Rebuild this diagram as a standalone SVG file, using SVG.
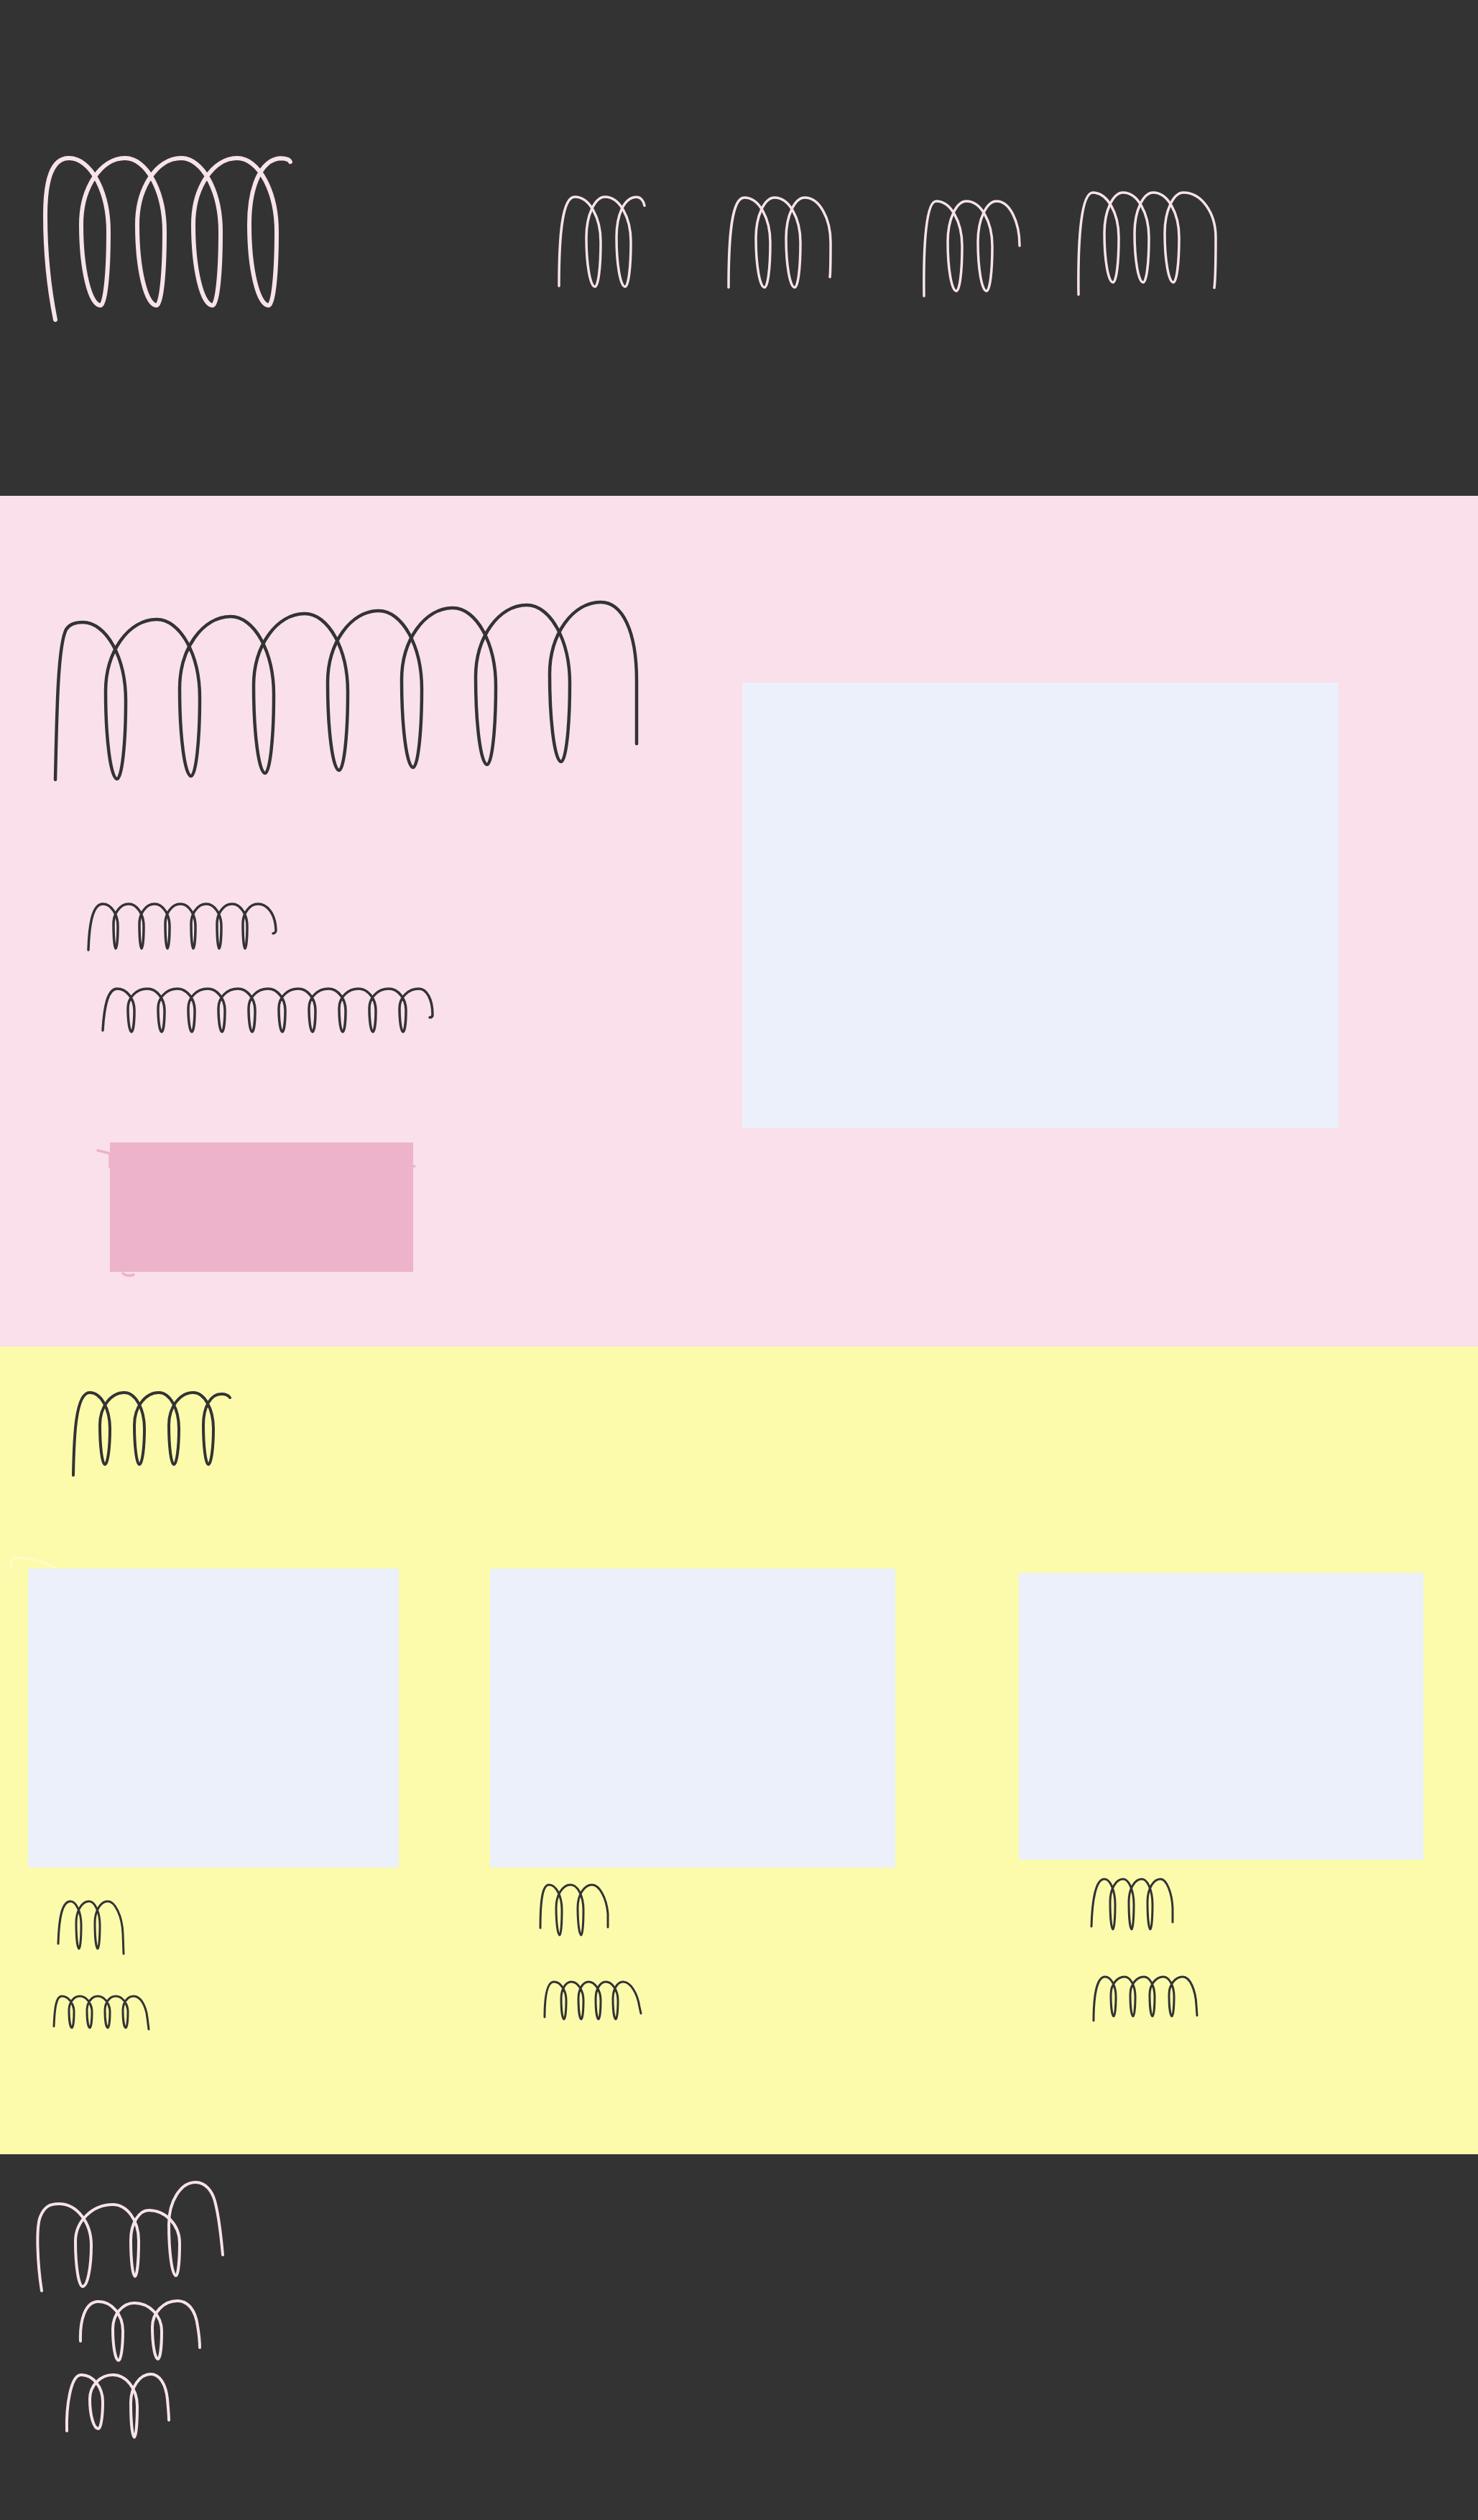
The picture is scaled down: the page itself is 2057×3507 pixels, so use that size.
<svg xmlns="http://www.w3.org/2000/svg" width="2057" height="3507" viewBox="0 0 2057 3507">
<style>
.dark{fill:#333333}
.pink{fill:#F9E0EA}
.yellow{fill:#FCFBAC}
.img{fill:#ECF0FA}
.btn{fill:#EDB3CB}
.sl{fill:none;stroke:#F8E3EA;stroke-linecap:round;stroke-linejoin:round}
.sd{fill:none;stroke:#333333;stroke-linecap:round;stroke-linejoin:round}
</style>
<g id="header">
<rect class="dark" x="0" y="0" width="2057" height="690"/>
<g id="logo"><path class="sl" stroke-width="6" d="M 77,445 C 70,410 63,360 63,300 C 63,250 72,220 96,220 c 30,0 55,46 55,102.5 c 0,61.5 -5,102.5 -11,102.5 c -15,0 -27,-51 -27,-112.75 c 0,-51 27.5,-92.25 61,-92.25 c 30,0 55,46 55,102.5 c 0,61.5 -5,102.5 -11,102.5 c -15,0 -27,-51 -27,-112.75 c 0,-51 27.5,-92.25 61,-92.25 c 30,0 55,46 55,102.5 c 0,61.5 -5,102.5 -11,102.5 c -15,0 -27,-51 -27,-112.75 c 0,-51 27.5,-92.25 61,-92.25 c 30,0 55,46 55,102.5 c 0,61.5 -5,102.5 -11,102.5 c -15,0 -27,-51 -27,-112.75 c 0,-50 15,-90 43,-92 c 8,0 13,2 14,5"/></g>
<g id="nav-1"><path class="sl" stroke-width="3.5" d="M 778,398 C 778,330 782,274 800,274 c 20,0 36,28 36,62.5 c 0,37.5 -3.6,62.5 -8,62.5 c -6.6,0 -12,-31 -12,-68.75 c 0,-31 12,-56.25 26,-56.25 c 20,0 36,28 36,62.5 c 0,37.5 -3.6,62.5 -8,62.5 c -6.6,0 -12,-31 -12,-68.75 c 0,-30 10,-56 28,-56 c 6,0 10,6 11,12"/></g>
<g id="nav-2"><path class="sl" stroke-width="3.5" d="M 1014,400 C 1014,330 1018,275 1036,275 c 20,0 36,28 36,62.5 c 0,37.5 -3.6,62.5 -8,62.5 c -6.6,0 -12,-31 -12,-68.75 c 0,-31 12,-56.25 26,-56.25 c 20,0 36,28 36,62.5 c 0,37.5 -3.6,62.5 -8,62.5 c -6.6,0 -12,-31 -12,-68.75 c 0,-31 12,-56.25 26,-56.25 c 20,0 36,28 36,62.5 c 0,20 0,40 -1,48"/></g>
<g id="nav-3"><path class="sl" stroke-width="3.5" d="M 1286,412 C 1285,340 1289,280 1303,280 c 20,0 36,28 36,62.5 c 0,37.5 -3.6,62.5 -8,62.5 c -6.6,0 -12,-31 -12,-68.75 c 0,-31 12,-56.25 26,-56.25 c 20,0 36,28 36,62.5 c 0,37.5 -3.6,62.5 -8,62.5 c -6.6,0 -12,-31 -12,-68.75 c 0,-31 12,-56.25 26,-56.25 c 18,0 32,28 32,62"/></g>
<g id="nav-4"><path class="sl" stroke-width="3.5" d="M 1501,410 C 1500,330 1505,268 1521,268 c 20,0 36,28 36,62.5 c 0,37.5 -3.6,62.5 -8,62.5 c -6.6,0 -12,-31 -12,-68.75 c 0,-31 12,-56.25 26,-56.25 c 20,0 36,28 36,62.5 c 0,37.5 -3.6,62.5 -8,62.5 c -6.6,0 -12,-31 -12,-68.75 c 0,-31 12,-56.25 26,-56.25 c 20,0 36,28 36,62.5 c 0,37.5 -3.6,62.5 -8,62.5 c -6.6,0 -12,-31 -12,-68.75 c 0,-31 12,-56.25 26,-56.25 c 25,0 45,28 45,62.5 c 0,35 0,55 -2,70"/></g>
</g>
<g id="hero">
<rect class="pink" x="0" y="690" width="2057" height="1184"/>
<g id="hero-title"><path class="sd" stroke-width="4.5" d="M 77,1085 C 79,1000 80,900 92,876 C 97,868 105,866 115,866 c 33,0 60,49 60,109 c 0,60 -5.4,109 -12,109 c -8.8,0 -16,-55 -16,-122 c 0,-55 32,-100 71,-100 c 33,0 60,49 60,109 c 0,60 -5.4,109 -12,109 c -8.8,0 -16,-55 -16,-122 c 0,-55 32,-100 71,-100 c 33,0 60,49 60,109 c 0,60 -5.4,109 -12,109 c -8.8,0 -16,-55 -16,-122 c 0,-55 32,-100 71,-100 c 33,0 60,49 60,109 c 0,60 -5.4,109 -12,109 c -8.8,0 -16,-55 -16,-122 c 0,-55 32,-100 71,-100 c 33,0 60,49 60,109 c 0,60 -5.4,109 -12,109 c -8.8,0 -16,-55 -16,-122 c 0,-55 32,-100 71,-100 c 33,0 60,49 60,109 c 0,60 -5.4,109 -12,109 c -8.8,0 -16,-55 -16,-122 c 0,-55 32,-100 71,-100 c 33,0 60,49 60,109 c 0,60 -5.4,109 -12,109 c -8.8,0 -16,-55 -16,-122 c 0,-55 32,-100 71,-100 c 30,0 50,40 50,109 l 0,88"/></g>
<g id="hero-subtitle-1"><path class="sd" stroke="#474747" stroke-width="3.5" d="M 123,1322 C 124,1290 128,1258 143,1258 c 11.5,0 21,14 21,31 c 0,17 -1.35,31 -3,31 c -1.65,0 -3,-15.5 -3,-34 c 0,-15.5 9.5,-28 21,-28 c 11.5,0 21,14 21,31 c 0,17 -1.35,31 -3,31 c -1.65,0 -3,-15.5 -3,-34 c 0,-15.5 9.5,-28 21,-28 c 11.5,0 21,14 21,31 c 0,17 -1.35,31 -3,31 c -1.65,0 -3,-15.5 -3,-34 c 0,-15.5 9.5,-28 21,-28 c 11.5,0 21,14 21,31 c 0,17 -1.35,31 -3,31 c -1.65,0 -3,-15.5 -3,-34 c 0,-15.5 9.5,-28 21,-28 c 11.5,0 21,14 21,31 c 0,17 -1.35,31 -3,31 c -1.65,0 -3,-15.5 -3,-34 c 0,-15.5 9.5,-28 21,-28 c 11.5,0 21,14 21,31 c 0,17 -1.35,31 -3,31 c -1.65,0 -3,-15.5 -3,-34 c 0,-15.5 9.5,-28 21,-28 c 12,0 24,12 25,36 c 0,3 -2,5 -4,5"/></g>
<g id="hero-subtitle-2"><path class="sd" stroke="#3d3d3d" stroke-width="3.5" d="M 143,1434 C 145,1400 150,1376 163,1376 c 13,0 24,13.5 24,30 c 0,16.5 -1.8,30 -4,30 c -2.75,0 -5,-15 -5,-33 c 0,-15 12,-27 27,-27 c 13,0 24,13.5 24,30 c 0,16.5 -1.8,30 -4,30 c -2.75,0 -5,-15 -5,-33 c 0,-15 12,-27 27,-27 c 13,0 24,13.5 24,30 c 0,16.5 -1.8,30 -4,30 c -2.75,0 -5,-15 -5,-33 c 0,-15 12,-27 27,-27 c 13,0 24,13.5 24,30 c 0,16.5 -1.8,30 -4,30 c -2.75,0 -5,-15 -5,-33 c 0,-15 12,-27 27,-27 c 13,0 24,13.5 24,30 c 0,16.5 -1.8,30 -4,30 c -2.75,0 -5,-15 -5,-33 c 0,-15 12,-27 27,-27 c 13,0 24,13.5 24,30 c 0,16.5 -1.8,30 -4,30 c -2.75,0 -5,-15 -5,-33 c 0,-15 12,-27 27,-27 c 13,0 24,13.5 24,30 c 0,16.5 -1.8,30 -4,30 c -2.75,0 -5,-15 -5,-33 c 0,-15 12,-27 27,-27 c 13,0 24,13.5 24,30 c 0,16.5 -1.8,30 -4,30 c -2.75,0 -5,-15 -5,-33 c 0,-15 12,-27 27,-27 c 13,0 24,13.5 24,30 c 0,16.5 -1.8,30 -4,30 c -2.75,0 -5,-15 -5,-33 c 0,-15 12,-27 27,-27 c 13,0 24,13.5 24,30 c 0,16.5 -1.8,30 -4,30 c -2.75,0 -5,-15 -5,-33 c 0,-15 12,-27 27,-27 c 11,0 19,15 19,36 c 0,3 -2,4 -4,4"/></g>
<g id="hero-button">
<rect class="btn" x="153" y="1590" width="422" height="180"/>
<path fill="none" stroke="#EDB3CB" stroke-width="3.5" stroke-linecap="round" d="M 136,1601 L 152,1605 M 153,1608 L 153,1624 M 171,1772 q 5,5 15,2 M 575,1623 l 2,0"/>
</g>
<g id="hero-image"><rect class="img" x="1033" y="950" width="830" height="620"/></g>
</g>
<g id="features">
<rect class="yellow" x="0" y="1874" width="2057" height="1124"/>
<g id="features-title"><path class="sd" stroke-width="4" d="M 102,2053 C 103,2000 105,1938 125,1938 c 15.4,0 28,22.5 28,50 c 0,27.5 -3.15,50 -7,50 c -3.85,0 -7,-25 -7,-55 c 0,-25 15.3,-45 34,-45 c 15.4,0 28,22.5 28,50 c 0,27.5 -3.15,50 -7,50 c -3.85,0 -7,-25 -7,-55 c 0,-25 15.3,-45 34,-45 c 15.4,0 28,22.5 28,50 c 0,27.5 -3.15,50 -7,50 c -3.85,0 -7,-25 -7,-55 c 0,-25 15.3,-45 34,-45 c 15.4,0 28,22.5 28,50 c 0,27.5 -3.15,50 -7,50 c -3.85,0 -7,-25 -7,-55 c 0,-25 10,-43 25,-43 c 6,0 10,2 12,5"/></g>
<path fill="none" stroke="#FFFFF2" stroke-opacity="0.4" stroke-width="3" stroke-linecap="round" d="M 16,2182 C 14,2175 16,2168 24,2168 C 45,2168 65,2175 78,2183"/>
<g id="card-1">
<rect class="img" x="39" y="2183" width="516" height="416"/>
<path class="sd" stroke-width="3" d="M 81,2705 C 82,2670 86,2646 98,2646 c 8,0 15,15 15,33 c 0,18 -1.35,33 -3,33 c -2.2,0 -4,-16.5 -4,-36.3 c 0,-16.5 8,-29.7 18,-29.7 c 8,0 15,15 15,33 c 0,18 -1.35,33 -3,33 c -2.2,0 -4,-16.5 -4,-36.3 c 0,-16.5 8,-29.7 18,-29.7 c 10,0 20,20 21,45 l 1,28"/>
<path class="sd" stroke-width="3" d="M 75,2820 C 76,2795 78,2778 86,2778 c 9,0 17,10 17,22 c 0,12 -1.35,22 -3,22 c -2.2,0 -4,-11 -4,-24.2 c 0,-11 6.75,-19.8 15,-19.8 c 9,0 17,10 17,22 c 0,12 -1.35,22 -3,22 c -2.2,0 -4,-11 -4,-24.2 c 0,-11 6.75,-19.8 15,-19.8 c 9,0 17,10 17,22 c 0,12 -1.35,22 -3,22 c -2.2,0 -4,-11 -4,-24.2 c 0,-11 6.75,-19.8 15,-19.8 c 9,0 17,10 17,22 c 0,12 -1.35,22 -3,22 c -2.2,0 -4,-11 -4,-24.2 c 0,-11 6.75,-19.8 15,-19.8 c 9,0 17,12 19,30 l 2,16"/>
</g>
<g id="card-2">
<rect class="img" x="682" y="2183" width="564" height="416"/>
<path class="sd" stroke-width="3" d="M 752,2683 C 752,2650 754,2623 764,2623 c 10,0 18,15.75 18,35 c 0,19 -1.35,35 -3,35 c -2.75,0 -5,-17.3 -5,-38.5 c 0,-17.3 9,-31.5 20,-31.5 c 10,0 18,15.75 18,35 c 0,19 -1.35,35 -3,35 c -2.75,0 -5,-17.3 -5,-38.5 c 0,-17.3 9,-31.5 20,-31.5 c 10,0 20,18 22,40 l 0,19"/>
<path class="sd" stroke-width="3" d="M 758,2807 C 758,2780 761,2758 771,2758 c 9,0 17,11.7 17,26 c 0,14.3 -1.35,26 -3,26 c -2.2,0 -4,-12.9 -4,-28.6 c 0,-12.9 6.3,-23.4 14,-23.4 c 9,0 17,11.7 17,26 c 0,14.3 -1.35,26 -3,26 c -2.2,0 -4,-12.9 -4,-28.6 c 0,-12.9 6.3,-23.4 14,-23.4 c 9,0 17,11.7 17,26 c 0,14.3 -1.35,26 -3,26 c -2.2,0 -4,-12.9 -4,-28.6 c 0,-12.9 6.3,-23.4 14,-23.4 c 9,0 17,11.7 17,26 c 0,14.3 -1.35,26 -3,26 c -2.2,0 -4,-12.9 -4,-28.6 c 0,-12.9 6.3,-23.4 14,-23.4 c 10,0 20,15 23,35 l 2,9"/>
</g>
<g id="card-3">
<rect class="img" x="1418" y="2189" width="563" height="399"/>
<path class="sd" stroke-width="3" d="M 1519,2681 C 1520,2645 1525,2615 1537,2615 c 8,0 15,15.75 15,35 c 0,19 -1.35,35 -3,35 c -2.2,0 -4,-17.3 -4,-38.5 c 0,-17.3 8,-31.5 18,-31.5 c 8,0 15,15.75 15,35 c 0,19 -1.35,35 -3,35 c -2.2,0 -4,-17.3 -4,-38.5 c 0,-17.3 8,-31.5 18,-31.5 c 8,0 15,15.75 15,35 c 0,19 -1.35,35 -3,35 c -2.2,0 -4,-17.3 -4,-38.5 c 0,-17.3 8,-31.5 18,-31.5 c 9,0 16,20 17,40 l 0,20"/>
<path class="sd" stroke-width="3" d="M 1522,2812 C 1522,2780 1526,2751 1538,2751 c 8,0 15,12.4 15,27.5 c 0,15 -1.35,27.5 -3,27.5 c -2.2,0 -4,-13.6 -4,-30.25 c 0,-13.6 8.5,-24.75 19,-24.75 c 8,0 15,12.4 15,27.5 c 0,15 -1.35,27.5 -3,27.5 c -2.2,0 -4,-13.6 -4,-30.25 c 0,-13.6 8.5,-24.75 19,-24.75 c 8,0 15,12.4 15,27.5 c 0,15 -1.35,27.5 -3,27.5 c -2.2,0 -4,-13.6 -4,-30.25 c 0,-13.6 8.5,-24.75 19,-24.75 c 8,0 15,12.4 15,27.5 c 0,15 -1.35,27.5 -3,27.5 c -2.2,0 -4,-13.6 -4,-30.25 c 0,-13.6 8.5,-24.75 19,-24.75 c 10,0 18,18 19,40 l 1,14"/>
</g>
</g>
<g id="footer">
<rect class="dark" x="0" y="2998" width="2057" height="509"/>
<g id="footer-line-1"><path class="sl" stroke-width="4" d="M 58,3188 C 52,3150 50,3100 56,3085 C 62,3070 70,3067 82,3067 c 25,0 45,26 45,57.5 c 0,31.6 -5.4,57.5 -12,57.5 c -5.5,0 -10,-28 -10,-62.7 c 0,-28 23.4,-51.3 52,-51.3 c 20,0 36,22.5 36,50 c 0,27.5 -2.25,50 -5,50 c -3.3,0 -6,-22.8 -6,-50.6 c 0,-22.8 11.25,-41.4 25,-41.4 c 23.65,0 43,20.5 43,45.5 c 0,25 -2.25,45.5 -5,45.5 c -5.5,0 -10,-32.2 -10,-71.5 c 0,-32.2 16.650,-58.5 37,-58.5 c 14,0 24,12 28,30 c 6,25 8,50 10,71"/></g>
<g id="footer-line-2"><path class="sl" stroke-width="4" d="M 112,3258 C 111,3230 118,3203 137,3203 c 18.7,0 34,18.5 34,41 c 0,22.5 -2.7,41 -6,41 c -4.4,0 -8,-19.8 -8,-44 c 0,-19.8 13.5,-36 30,-36 c 20.9,0 38,17.5 38,39 c 0,21.5 -2.25,39 -5,39 c -4.4,0 -8,-20 -8,-44.5 c 0,-20 15.75,-36.5 35,-36.5 c 14,0 25,12 28,35 c 2,12 3,22 3,30"/></g>
<g id="footer-line-3"><path class="sl" stroke-width="4" d="M 93,3383 C 92,3350 98,3305 113,3305 c 16.5,0 30,17 30,37.5 c 0,20.6 -2.7,37.5 -6,37.5 c -6.6,0 -12,-18.6 -12,-41.25 c 0,-18.6 14.4,-33.75 32,-33.75 c 18.7,0 34,19.6 34,43.5 c 0,24 -1.8,43.5 -4,43.5 c -2.75,0 -5,-21.8 -5,-48.4 c 0,-21.8 12.6,-39.6 28,-39.6 c 12,0 21,14 23,35 c 1,12 2,22 2,29"/></g>
</g>
<g id="connectors"/>
</svg>
